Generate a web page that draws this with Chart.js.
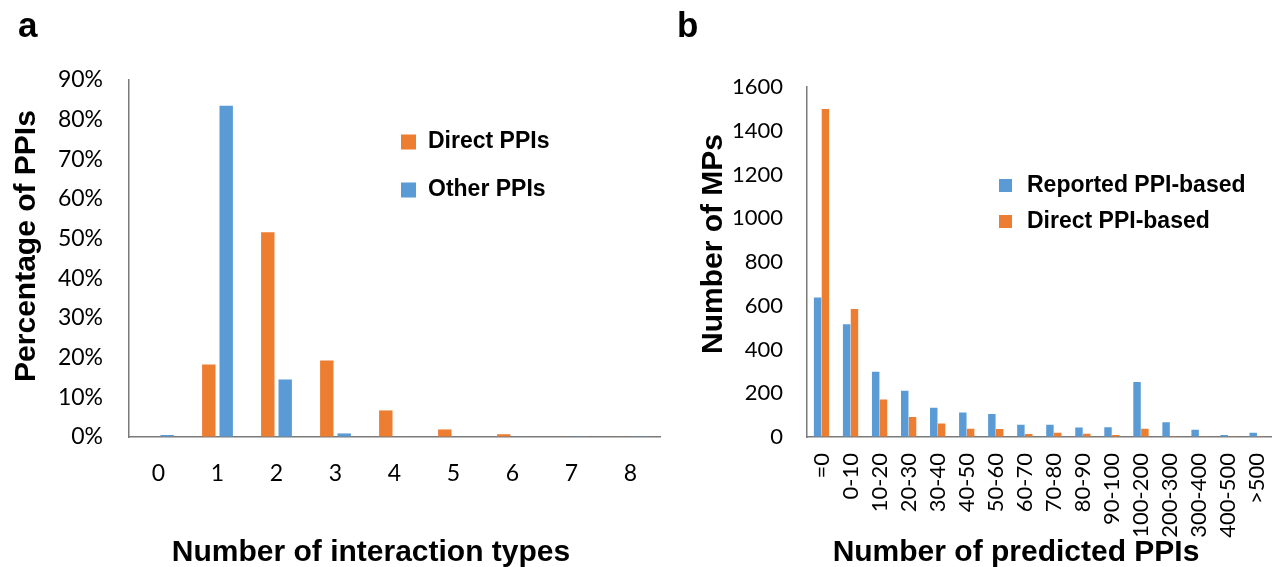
<!DOCTYPE html>
<html>
<head>
<meta charset="utf-8">
<script src="https://cdn.jsdelivr.net/npm/chart.js@4/dist/chart.umd.min.js"></script>
<style>
html, body { margin:0; padding:0; background:#fff; overflow:hidden; width:1282px; height:567px; }
canvas { position:absolute; top:0; }
#ca { left:0px; }
#cb { left:670px; }
</style>
</head>
<body>
<canvas id="ca" width="680" height="567"></canvas>
<canvas id="cb" width="630" height="567"></canvas>
<script>
// ---------- Panel a data ----------
const interactionTypes = ['0','1','2','3','4','5','6','7','8'];
const directPPIs = [0, 18.3, 51.6, 19.3, 6.7, 1.9, 0.7, 0.15, 0.1];
const otherPPIs  = [0.5, 83.5, 14.5, 0.9, 0.1, 0.1, 0.1, 0.05, 0.05];
const pctTicks = [0,10,20,30,40,50,60,70,80,90];

// ---------- Panel b data ----------
const predictedBins = ['=0','0-10','10-20','20-30','30-40','40-50','50-60','60-70','70-80','80-90','90-100','100-200','200-300','300-400','400-500','>500'];
const reportedBased = [638, 515, 298, 212, 134, 112, 105, 56, 56, 44, 45, 252, 68, 33, 9, 20];
const directBased   = [1500, 585, 172, 92, 62, 38, 37, 14, 20, 15, 9, 38, 3, 3, 3, 3];
const mpTicks = [0,200,400,600,800,1000,1200,1400,1600];

const ORANGE = '#ED7D31';
const BLUE = '#5B9BD5';
const AXIS = '#7a7a7a';
const TITLE_FONT = 'bold 30px "Liberation Sans", Arial, sans-serif';

Chart.defaults.font.family = 'Lato, "Open Sans", sans-serif';
Chart.defaults.color = '#000';

const annotateText = {
  id: 'annotateText',
  afterDraw(chart, args, opts) {
    const ctx = chart.ctx;
    const off = opts.offsetX || 0;
    (opts.items || []).forEach(it => {
      ctx.save();
      ctx.font = it.font;
      ctx.fillStyle = '#000';
      ctx.textAlign = it.align || 'center';
      ctx.textBaseline = it.baseline || 'alphabetic';
      ctx.translate(it.x - off, it.y);
      if (it.rotate) ctx.rotate(it.rotate * Math.PI / 180);
      ctx.fillText(it.text, 0, 0);
      ctx.restore();
    });
    const lg = opts.legend;
    if (lg) {
      chart.data.datasets.forEach((ds, i) => {
        const cy = lg.y + i * lg.spacing;
        ctx.save();
        ctx.fillStyle = ds.backgroundColor;
        ctx.fillRect(lg.x - off, cy - lg.box / 2, lg.box, lg.box);
        ctx.fillStyle = '#000';
        ctx.font = lg.font;
        ctx.textAlign = 'left';
        ctx.textBaseline = 'middle';
        ctx.fillText(ds.label, lg.textX - off, cy);
        ctx.restore();
      });
    }
  }
};

function axisCommon() {
  return {
    grid: { display: true, drawOnChartArea: false, drawTicks: false },
    border: { display: true, color: AXIS, width: 1.5 }
  };
}

// ---------- Chart a ----------
new Chart(document.getElementById('ca'), {
  type: 'bar',
  data: {
    labels: interactionTypes,
    datasets: [
      { label: 'Direct PPIs', data: directPPIs, backgroundColor: ORANGE, categoryPercentage: 0.59, barPercentage: 0.77 },
      { label: 'Other PPIs', data: otherPPIs, backgroundColor: BLUE, categoryPercentage: 0.59, barPercentage: 0.77 }
    ]
  },
  options: {
    responsive: false, animation: false, devicePixelRatio: 1,
    layout: { padding: { top: 80, left: 0, right: 20, bottom: 0 } },
    plugins: {
      legend: { display: false }, tooltip: { enabled: false },
      annotateText: {
        offsetX: 0,
        items: [
          { text: 'a', x: 18, y: 37, font: 'bold 35px "Liberation Sans", Arial, sans-serif', align: 'left' },
          { text: 'Percentage of PPIs', x: 35, y: 246, rotate: -90, font: TITLE_FONT },
          { text: 'Number of interaction types', x: 371, y: 561, font: TITLE_FONT }
        ],
        legend: { x: 401, textX: 428, y: 142, spacing: 48, box: 15, font: 'bold 23px "Liberation Sans", Arial, sans-serif' }
      }
    },
    scales: {
      x: Object.assign(axisCommon(), {
        ticks: { padding: 23, font: { size: 23 }, color: '#000' },
        afterFit(s) { s.height = 130; }
      }),
      y: Object.assign(axisCommon(), {
        min: 0, max: 90,
        afterBuildTicks(s) { s.ticks = pctTicks.map(v => ({ value: v })); },
        ticks: { padding: 26, font: { size: 23 }, color: '#000', callback: v => v + '%' },
        afterFit(s) { s.width = 129; }
      })
    }
  },
  plugins: [annotateText]
});

// ---------- Chart b ----------
new Chart(document.getElementById('cb'), {
  type: 'bar',
  data: {
    labels: predictedBins,
    datasets: [
      { label: 'Reported PPI-based', data: reportedBased, backgroundColor: BLUE, categoryPercentage: 0.54, barPercentage: 0.95 },
      { label: 'Direct PPI-based', data: directBased, backgroundColor: ORANGE, categoryPercentage: 0.54, barPercentage: 0.95 }
    ]
  },
  options: {
    responsive: false, animation: false, devicePixelRatio: 1,
    layout: { padding: { top: 87, left: 0, right: 15, bottom: 0 } },
    plugins: {
      legend: { display: false }, tooltip: { enabled: false },
      annotateText: {
        offsetX: 670,
        items: [
          { text: 'b', x: 677, y: 37, font: 'bold 35px "Liberation Sans", Arial, sans-serif', align: 'left' },
          { text: 'Number of MPs', x: 722, y: 244, rotate: -90, font: TITLE_FONT },
          { text: 'Number of predicted PPIs', x: 1016, y: 561, font: TITLE_FONT }
        ],
        legend: { x: 999, textX: 1027, y: 185.5, spacing: 36, box: 13, font: 'bold 23px "Liberation Sans", Arial, sans-serif' }
      }
    },
    scales: {
      x: Object.assign(axisCommon(), {
        ticks: { padding: 16, font: { size: 22 }, color: '#000', minRotation: 90, maxRotation: 90, autoSkip: false },
        afterFit(s) { s.height = 130; }
      }),
      y: Object.assign(axisCommon(), {
        min: 0, max: 1600,
        afterBuildTicks(s) { s.ticks = mpTicks.map(v => ({ value: v })); },
        ticks: { padding: 24, font: { size: 22 }, color: '#000', callback: v => String(v) },
        afterFit(s) { s.width = 137; }
      })
    }
  },
  plugins: [annotateText]
});
</script>
</body>
</html>
